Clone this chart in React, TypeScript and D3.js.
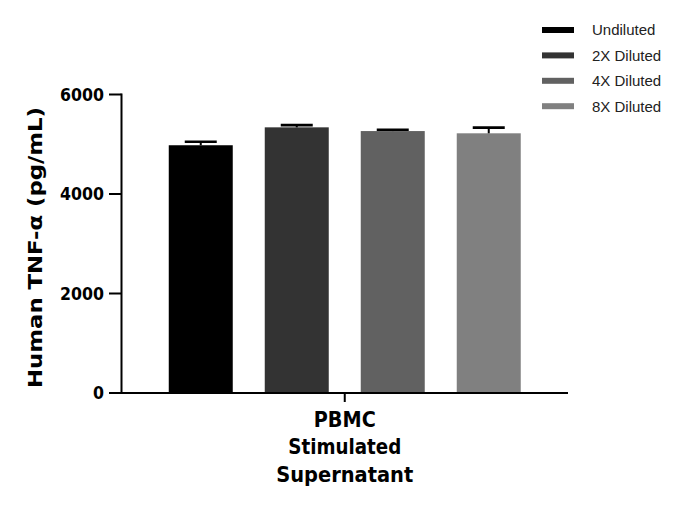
import React from 'react';
import * as d3 from 'd3';

const categories = ['PBMC Stimulated Supernatant'];
const categoryLines = ['PBMC', 'Stimulated', 'Supernatant'];
const series = ['Undiluted', '2X Diluted', '4X Diluted', '8X Diluted'];
const means = [4980, 5340, 5265, 5220];
const errors = [70, 45, 25, 115];
const colors = ['#000000', '#333333', '#616161', '#808080'];
const yTicks = [0, 2000, 4000, 6000];

const W = 687;
const H = 507;
const axisFont = '"DejaVu Sans", sans-serif';
// widths of the wide geometric face in the original, used to stretch DejaVu to fit
const catLineWidths = [62, 113, 137];

const App: React.FC = () => {
  const y = d3.scaleLinear().domain([0, 6000]).range([393, 94.5]);
  const x0 = d3.scaleBand<string>().domain(categories).range([121.5, 568]).paddingOuter(0.0814);
  const x1 = d3
    .scaleBand<string>()
    .domain(series)
    .range([0, x0.bandwidth()])
    .paddingInner(1 / 3)
    .paddingOuter(1 / 6);

  const cx = (x0(categories[0]) ?? 0) + x0.bandwidth() / 2;

  return (
    <svg width={W} height={H} style={{ position: 'absolute', left: 0, top: 0, background: '#fff' }}>
      {/* bars + error bars */}
      <g transform={`translate(${x0(categories[0])},0)`}>
        {series.map((s, i) => {
          const bx = x1(s) ?? 0;
          const bw = x1.bandwidth();
          const mid = bx + bw / 2;
          const top = y(means[i] + errors[i]);
          return (
            <g key={s}>
              <rect x={bx} y={y(means[i])} width={bw} height={y(0) - y(means[i])} fill={colors[i]} />
              <line x1={mid} x2={mid} y1={y(means[i])} y2={top} stroke="#000" strokeWidth={2} />
              <line x1={mid - 16} x2={mid + 16} y1={top} y2={top} stroke="#000" strokeWidth={2.6} />
            </g>
          );
        })}
      </g>

      {/* y axis */}
      <line x1={121.5} x2={121.5} y1={y(6000) - 1} y2={y(0) + 1} stroke="#000" strokeWidth={2} />
      {yTicks.map((t) => (
        <g key={t}>
          <line x1={109} x2={121.5} y1={y(t)} y2={y(t)} stroke="#000" strokeWidth={2} />
          <text
            x={104}
            y={y(t)}
            dy="0.36em"
            textAnchor="end"
            fontFamily={axisFont}
            fontWeight="bold"
            fontSize={18}
            textLength={String(t).length * 11}
            lengthAdjust="spacingAndGlyphs"
          >
            {t}
          </text>
        </g>
      ))}

      {/* x axis */}
      <line x1={120.5} x2={568} y1={y(0)} y2={y(0)} stroke="#000" strokeWidth={2} />
      <line x1={cx} x2={cx} y1={y(0)} y2={y(0) + 9} stroke="#000" strokeWidth={2} />
      {categoryLines.map((l, i) => (
        <text
          key={l}
          x={cx}
          y={426.5 + i * 27.5}
          textAnchor="middle"
          fontFamily={axisFont}
          fontWeight="bold"
          fontSize={21}
          textLength={catLineWidths[i]}
          lengthAdjust="spacingAndGlyphs"
        >
          {l}
        </text>
      ))}

      {/* y label */}
      <text
        transform={`translate(42,${(107 + 388) / 2}) rotate(-90)`}
        textAnchor="middle"
        fontFamily={axisFont}
        fontWeight="bold"
        fontSize={20}
        textLength={281}
        lengthAdjust="spacingAndGlyphs"
      >
        Human TNF-α (pg/mL)
      </text>

      {/* legend */}
      {series.map((s, i) => (
        <g key={s} transform={`translate(542,${30 + i * 25.4})`}>
          <rect x={0} y={-3} width={32} height={6} fill={colors[i]} />
          <text x={50} y={0} dy="0.36em" fontFamily='"Liberation Sans", Arial, sans-serif' fontSize={15} fill="#222">
            {s}
          </text>
        </g>
      ))}
    </svg>
  );
};

export default App;
